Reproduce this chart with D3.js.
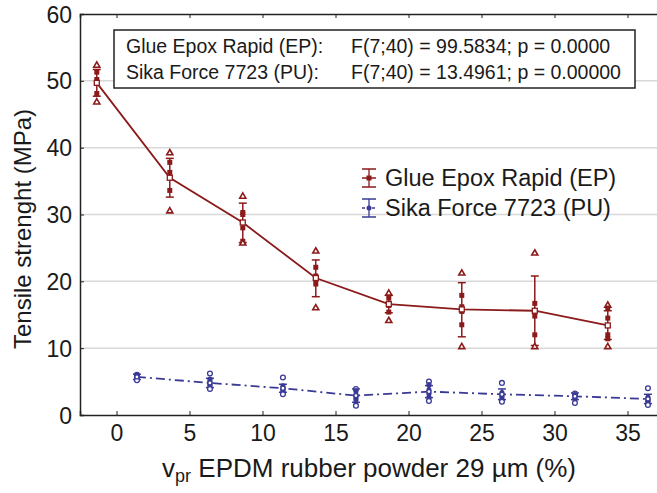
<!DOCTYPE html>
<html><head><meta charset="utf-8">
<script src="https://cdn.jsdelivr.net/npm/d3@7"></script>
<style>body{margin:0;background:#fff}svg{display:block;font-family:"Liberation Sans",Arial,sans-serif}</style>
</head><body><svg id="c" width="657" height="493"></svg>
<script>
const concentrations = [0, 5, 10, 15, 20, 25, 30, 35];
const xTicks = [0, 5, 10, 15, 20, 25, 30, 35];
const yTicks = [0, 10, 20, 30, 40, 50, 60];
const seriesNames = ["Glue Epox Rapid (EP)", "Sika Force 7723 (PU)"];
const statLines = [["Glue Epox Rapid (EP):", "F(7;40) = 99.5834; p = 0.0000"], ["Sika Force 7723 (PU):", "F(7;40) = 13.4961; p = 0.00000"]];
const epMean = [49.7, 35.5, 28.8, 20.5, 16.6, 15.8, 15.6, 13.4];
const epErrLow = [47.7, 32.6, 25.8, 17.7, 15.3, 11.7, 10.4, 11.3];
const epErrHigh = [51.7, 38.4, 31.7, 23.2, 17.9, 19.8, 20.8, 15.6];
const epSpecimens = [[52.3,51.3,50.2,49.6,48.1,46.8],[39.2,37.8,36.3,35.6,33.6,30.5],[32.7,30.3,30.0,28.0,26.0,25.7],[24.5,22.1,20.8,20.3,19.6,16.0],[18.2,17.5,16.7,16.4,15.4,14.1],[21.2,17.9,16.2,15.5,13.5,10.2],[24.2,16.7,15.4,14.8,12.0,10.2],[16.4,16.0,14.5,12.0,11.4,10.2]];
const puMean = [5.7, 4.8, 4.0, 2.9, 3.5, 3.1, 2.8, 2.4];
const puErrLow = [5.3, 4.1, 3.4, 1.9, 2.6, 2.3, 2.3, 1.7];
const puErrHigh = [6.1, 5.5, 4.6, 3.9, 4.4, 3.9, 3.3, 3.1];
const puSpecimens = [[6.0,5.9,5.8,5.6,5.3,5.2],[6.2,5.3,4.9,4.6,4.3,3.9],[5.6,4.3,4.0,3.8,3.5,3.1],[3.9,3.6,3.0,2.6,2.3,1.4],[5.0,4.5,3.7,3.2,2.6,2.1],[4.8,3.3,3.0,2.7,2.3,2.0],[3.2,3.0,2.9,2.7,2.4,1.8],[4.0,2.6,2.3,2.1,1.9,1.5]];
const offsets = [-1.35, 1.4];

const EP = "#8b1a1a", PU = "#3a3a96";
const svg = d3.select("#c");
const x = d3.scaleLinear().domain([-2.5, 37.5]).range([80, 664]);
const y = d3.scaleLinear().domain([0, 60]).range([415, 14]);

// gridlines
svg.append("g").selectAll("line").data(yTicks.filter(t => t > 0 && t < 60)).join("line")
  .attr("x1", 80).attr("x2", 657).attr("y1", d => y(d)).attr("y2", d => y(d))
  .attr("stroke", "#d8d8d8").attr("stroke-width", 1.5);

// axes
const axL = svg.append("g").attr("transform", "translate(80,0)")
  .call(d3.axisLeft(y).tickValues(yTicks).tickSize(-4).tickPadding(8).tickFormat(d3.format("d")));
const axB = svg.append("g").attr("transform", "translate(0,415)")
  .call(d3.axisBottom(x).tickValues(xTicks).tickSize(-4).tickPadding(10).tickFormat(d3.format("d")));
const axT = svg.append("g").attr("transform", "translate(0,14)")
  .call(d3.axisTop(x).tickValues(xTicks).tickSize(-4).tickFormat(""));
[axL, axB, axT].forEach(a => {
  a.select(".domain").attr("stroke", "#222").attr("stroke-width", 1.5);
  a.selectAll(".tick line").attr("stroke", "#222").attr("stroke-width", 1);
  a.selectAll("text").attr("font-size", 23).attr("fill", "#1a1a1a").attr("font-family", "Liberation Sans, Arial, sans-serif");
});
axL.selectAll(".tick text").attr("dy", "0.35em");
axB.selectAll(".tick text").attr("dy", "0.71em");

function drawSeries(means, lo, hi, specs, off, color, dash, kind) {
  const g = svg.append("g");
  const pts = concentrations.map((c, i) => [x(c + off), y(means[i])]);
  g.append("path").attr("d", d3.line()(pts)).attr("fill", "none").attr("stroke", color)
    .attr("stroke-width", 1.8).attr("stroke-dasharray", dash);
  concentrations.forEach((c, i) => {
    const cx = x(c + off);
    g.append("line").attr("x1", cx).attr("x2", cx).attr("y1", y(lo[i])).attr("y2", y(hi[i])).attr("stroke", color).attr("stroke-width", 1.5);
    [lo[i], hi[i]].forEach(v => g.append("line").attr("x1", cx - 4).attr("x2", cx + 4).attr("y1", y(v)).attr("y2", y(v)).attr("stroke", color).attr("stroke-width", 1.5));
    specs[i].forEach((v, j) => {
      const hollow = (j === 0 || j === specs[i].length - 1);
      const cy = y(v);
      if (kind === "ep") {
        if (hollow) g.append("path").attr("d", d3.symbol(d3.symbolTriangle, 16)()).attr("transform", `translate(${cx},${cy})`)
          .attr("fill", "#fff").attr("stroke", color).attr("stroke-width", 1.6);
        else g.append("rect").attr("x", cx - 2.5).attr("y", cy - 2.5).attr("width", 5).attr("height", 5).attr("fill", color);
      } else {
        if (hollow) g.append("circle").attr("cx", cx).attr("cy", cy).attr("r", 2.4).attr("fill", "#fff").attr("stroke", color).attr("stroke-width", 1.3);
        else g.append("ellipse").attr("cx", cx).attr("cy", cy).attr("rx", 2.6).attr("ry", 3).attr("fill", color);
      }
    });
    if (kind === "ep") g.append("rect").attr("x", cx - 2.5).attr("y", y(means[i]) - 2.5).attr("width", 5).attr("height", 5)
      .attr("fill", "#fff").attr("stroke", color).attr("stroke-width", 1.3);
    else g.append("circle").attr("cx", cx).attr("cy", y(means[i])).attr("r", 2).attr("fill", "#fff").attr("stroke", color).attr("stroke-width", 1.2);
  });
}
drawSeries(epMean, epErrLow, epErrHigh, epSpecimens, offsets[0], EP, null, "ep");
drawSeries(puMean, puErrLow, puErrHigh, puSpecimens, offsets[1], PU, "9,4,2,4", "pu");

// axis titles
svg.append("text").attr("transform", "translate(31,229) rotate(-90)").attr("text-anchor", "middle")
  .attr("font-size", 24).attr("fill", "#1a1a1a").text("Tensile strenght (MPa)");
const xl = svg.append("text").attr("x", 369).attr("y", 477).attr("text-anchor", "middle").attr("font-size", 26).attr("fill", "#1a1a1a");
xl.append("tspan").text("v");
xl.append("tspan").attr("font-size", 18).attr("dy", 5).text("pr");
xl.append("tspan").attr("dy", -5).text(" EPDM rubber powder 29 µm (%)");

// stats box
svg.append("rect").attr("x", 114).attr("y", 30).attr("width", 521).attr("height", 58).attr("fill", "#fff").attr("stroke", "#222").attr("stroke-width", 1.5);
statLines.forEach((l, i) => {
  svg.append("text").attr("x", 126).attr("y", 53 + i * 26).attr("font-size", 19.5).attr("fill", "#1a1a1a").text(l[0]);
  svg.append("text").attr("x", 351).attr("y", 53 + i * 26).attr("font-size", 19.5).attr("fill", "#1a1a1a").text(l[1]);
});

// legend
const legColors = [EP, PU];
seriesNames.forEach((n, i) => {
  const cy = 178 + i * 30, cx = 369, c = legColors[i];
  const g = svg.append("g");
  g.append("line").attr("x1", cx).attr("x2", cx).attr("y1", cy - 9).attr("y2", cy + 9).attr("stroke", c).attr("stroke-width", 1.3);
  [cy - 9, cy + 9].forEach(v => g.append("line").attr("x1", cx - 7).attr("x2", cx + 7).attr("y1", v).attr("y2", v).attr("stroke", c).attr("stroke-width", 1.5));
  g.append("line").attr("x1", cx - 7).attr("x2", cx + 7).attr("y1", cy).attr("y2", cy).attr("stroke", c).attr("stroke-width", 1.5).attr("stroke-dasharray", i ? "3,2" : null);
  if (i === 0) g.append("rect").attr("x", cx - 2.5).attr("y", cy - 2.5).attr("width", 5).attr("height", 5).attr("fill", c);
  else g.append("circle").attr("cx", cx).attr("cy", cy).attr("r", 2.5).attr("fill", c);
  g.append("text").attr("x", 385).attr("y", cy + 8).attr("font-size", 23.5).attr("fill", "#1a1a1a").text(n);
});
</script></body></html>
